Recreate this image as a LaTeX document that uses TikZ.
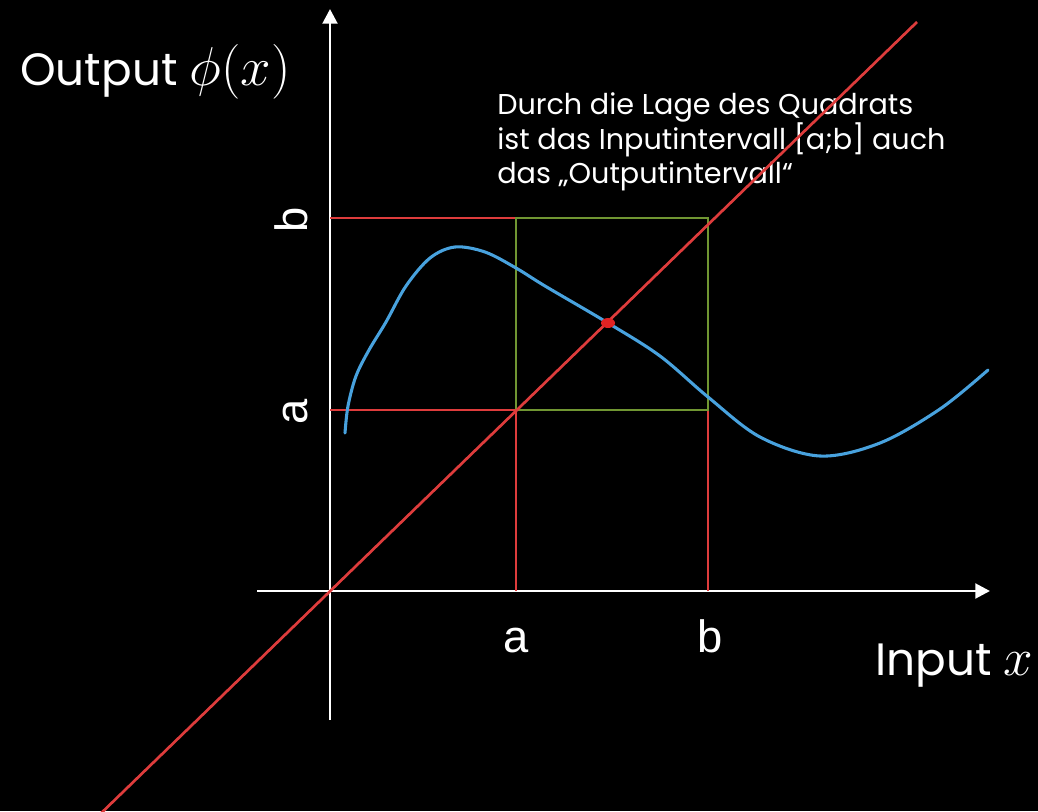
\documentclass[tikz,border=0pt]{standalone}
\usepackage{graphicx}
\usepackage{fontspec}
\setmainfont{Poppins}
\newfontfamily\arialfont{Liberation Sans}
\usetikzlibrary{arrows.meta}
\definecolor{redline}{RGB}{222,60,60}
\definecolor{reddot}{RGB}{225,35,35}
\definecolor{bluecurve}{RGB}{72,162,222}
\definecolor{greensq}{RGB}{112,150,50}
\begin{document}
\begin{tikzpicture}[x=0.75pt,y=-0.75pt,
  axis/.style={white,line width=2.2pt,-{Triangle[width=11pt,length=11pt]}},
  guide/.style={redline,line width=1.5pt},
  diag/.style={redline,line width=2pt},
  square/.style={greensq,line width=1.6pt},
  curve/.style={bluecurve,line width=2.3pt,line cap=round},
  bigtxt/.style={white,inner sep=0pt,font=\fontsize{34}{40}\selectfont},
  lbl/.style={white,inner sep=0pt,font=\arialfont\fontsize{34}{40}\selectfont},
  note/.style={white,inner sep=0pt,align=left,font=\fontsize{21.5}{25.5}\selectfont}]
\fill[black] (0,0) rectangle (1038,811);
\useasboundingbox (0,0) rectangle (1038,811);
% coordinates
\coordinate (O) at (330,591);
\coordinate (ytip) at (330,9);
\coordinate (ybot) at (330,720);
\coordinate (xleft) at (257,591);
\coordinate (xtip) at (990,591);
\coordinate (ya) at (330,410);
\coordinate (yb) at (330,218);
\coordinate (xa) at (516,591);
\coordinate (xb) at (708,591);
\coordinate (sa) at (516,410);
\coordinate (sb) at (708,218);
\coordinate (sab) at (516,218);
\coordinate (sba) at (708,410);
\coordinate (dstart) at (92,822);
\coordinate (dend) at (917,22);
\coordinate (fix) at (608,323);
% axes
\draw[axis] (ybot) -- (ytip);
\draw[axis] (xleft) -- (xtip);
% red guides
\draw[guide] (yb) -- (sab);
\draw[guide] (ya) -- (sa);
\draw[guide] (xa) -- (sa);
\draw[guide] (xb) -- (sba);
% green square
\draw[square] (sa) rectangle (sb);
% blue curve
\draw[curve] plot[smooth,tension=0.55] coordinates {(345,433) (348,406) (356,376) (369,350) (386,322) (406,286) (430,258) (455,247) (485,252) (516,268) (545,286) (608,323) (660,356) (708,397) (760,437) (820,456) (880,443) (940,409) (988,370)};
% labels
\node[bigtxt,anchor=base west] (outlbl) at (20,85) {Output \scalebox{1.65}{$\phi(x)$}};
\node[bigtxt,anchor=base west] (inlbl) at (875,675) {Input \scalebox{1.6}{$x$}};
\node[lbl,anchor=base] (la) at (516,652) {a};
\node[lbl,anchor=base] (lb) at (710,652) {b};
\node[lbl,anchor=base,rotate=90] (lya) at (307,412) {a};
\node[lbl,anchor=base,rotate=90] (lyb) at (307,220) {b};
\node[note,anchor=north west] (txt) at (497,92) {Durch die Lage des Quadrats\\ist das Inputintervall [a;b] auch\\das „Outputintervall“};
% diagonal
\begin{scope}
\clip (0,0) rectangle (1038,811);
\draw[diag] (dstart) -- (dend);
\end{scope}
\fill[reddot] (fix) ellipse (7 and 5);
\end{tikzpicture}
\end{document}
